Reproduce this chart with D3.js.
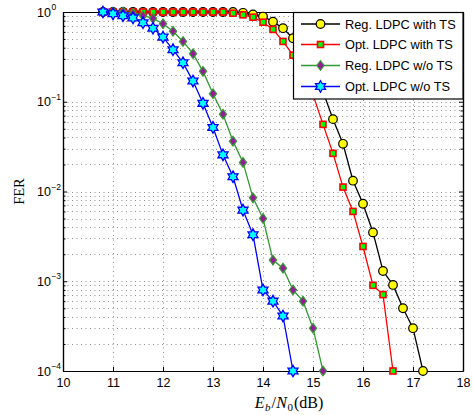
<!DOCTYPE html>
<html><head><meta charset="utf-8">
<script src="https://cdn.jsdelivr.net/npm/d3@7"></script>
<style>body{margin:0;background:#fff;} svg{display:block;}</style>
</head><body>
<svg id="c" width="473" height="415"></svg>
<script>
// ---------- data ----------
const snr = [10.8,11.0,11.2,11.4,11.6,11.8,12.0,12.2,12.4,12.6,12.8,13.0,13.2,13.4,13.6,13.8,14.0,14.2,14.4,14.6,14.8,15.0,15.2,15.4,15.6,15.8,16.0,16.2,16.4,16.6,16.8,17.0,17.2];
const seriesNames = ["Reg. LDPC with TS","Opt. LDPC with TS","Reg. LDPC w/o TS","Opt. LDPC w/o TS"];
const regWithTS = [1,1,1,1,1,1,1,1,1,1,1,1,1,1,0.98,0.94,0.89,0.78,0.66,0.51,0.34,0.22,0.13,0.064,0.034,0.0132,0.0073,0.0035,0.0013,0.00091,0.0005,0.0003,0.0001];
const optWithTS = [1,1,1,1,1,1,1,1,1,1,1,1,1,0.97,0.93,0.875,0.77,0.64,0.47,0.33,0.2,0.12,0.056,0.0266,0.0112,0.006,0.00244,0.0009,0.00071,0.0001];
const regWoTS = [1,1,1,0.96,0.91,0.85,0.74,0.61,0.47,0.343,0.218,0.123,0.0727,0.0364,0.0211,0.0085,0.005,0.00172,0.0014,0.0008,0.0006,0.0003,0.0001];
const optWoTS = [1,0.955,0.91,0.86,0.76,0.66,0.525,0.38,0.272,0.17,0.096,0.0517,0.0256,0.0146,0.0062,0.0033,0.0008,0.0006,0.00041,0.0001];
const xTicks = [10,11,12,13,14,15,16,17,18];
const yTicks = [1e-4,1e-3,1e-2,1e-1,1];
const yTickExp = ["\u22124","\u22123","\u22122","\u22121","0"];

// ---------- layout ----------
const L=63,R=463,T=12,B=371;
const svg = d3.select("#c");
const x = d3.scaleLinear().domain([10,18]).range([L,R]);
const y = d3.scaleLog().domain([1e-4,1]).range([B,T]);

const minorY = [];
for (let k=-4;k<0;k++) for (let m=1;m<10;m++){ const v=m*Math.pow(10,k); if (v>1e-4*1.0001) minorY.push(v); }
const onlyMinor = minorY.filter(v=>!yTicks.some(t=>Math.abs(Math.log10(v)-Math.log10(t))<1e-6));

// grid
const grid = svg.append("g").attr("stroke","#909090").attr("stroke-width",1).attr("stroke-dasharray","1,3.5").attr("fill","none");
grid.selectAll("line.h").data(minorY).join("line").attr("class","h")
  .attr("x1",L).attr("x2",R).attr("y1",d=>Math.round(y(d))+0.5).attr("y2",d=>Math.round(y(d))+0.5);
grid.selectAll("line.v").data(xTicks.slice(1,-1)).join("line").attr("class","v")
  .attr("y1",B).attr("y2",T).attr("x1",d=>Math.round(x(d))+0.5).attr("x2",d=>Math.round(x(d))+0.5);

// axes
const font = "'Liberation Sans', Arial, sans-serif";
function styleAxis(g){ g.selectAll("path.domain").attr("stroke","#000").attr("stroke-width",1.2);
  g.selectAll(".tick line").attr("stroke","#000").attr("stroke-width",1); g.selectAll("text").attr("fill","#000"); }
svg.append("g").attr("transform",`translate(0,${B})`)
  .call(d3.axisBottom(x).tickValues(xTicks).tickSizeInner(-4).tickSizeOuter(0).tickPadding(7).tickFormat(d3.format("d")))
  .call(styleAxis).call(g=>g.selectAll("text").attr("font-family",font).attr("font-size",12.5));
svg.append("g").attr("transform",`translate(0,${T})`)
  .call(d3.axisTop(x).tickValues(xTicks).tickSizeInner(-4).tickSizeOuter(0).tickFormat(""))
  .call(styleAxis);
svg.append("g").attr("transform",`translate(${L},0)`)
  .call(d3.axisLeft(y).tickValues(yTicks).tickSizeInner(-4).tickSizeOuter(0).tickFormat(""))
  .call(styleAxis);
svg.append("g").attr("transform",`translate(${L},0)`)
  .call(d3.axisLeft(y).tickValues(onlyMinor).tickSizeInner(-2.5).tickSizeOuter(0).tickFormat(""))
  .call(styleAxis);
svg.append("g").attr("transform",`translate(${R},0)`)
  .call(d3.axisRight(y).tickValues(yTicks).tickSizeInner(-4).tickSizeOuter(0).tickFormat(""))
  .call(styleAxis);
svg.append("g").attr("transform",`translate(${R},0)`)
  .call(d3.axisRight(y).tickValues(onlyMinor).tickSizeInner(-2.5).tickSizeOuter(0).tickFormat(""))
  .call(styleAxis);

// y tick labels 10^k
const yl = svg.append("g").attr("font-family",font).attr("fill","#000");
yTicks.forEach((t,i)=>{
  const tx = yl.append("text").attr("x",37).attr("y",y(t)+4.5).attr("font-size",12.5);
  tx.append("tspan").text("10");
  tx.append("tspan").attr("font-size",8.5).attr("dy",-6.5).attr("dx",0.5).text(yTickExp[i]);
});

// series
const xs = i=>x(snr[i]);
const series = [
  {vals:regWithTS, color:"#000000", fill:"#ffff00", sym:"circle"},
  {vals:optWithTS, color:"#ff0000", fill:"#00ff00", sym:"square"},
  {vals:regWoTS,  color:"#339933", fill:"#991a99", sym:"diamond"},
  {vals:optWoTS,  color:"#0000ff", fill:"#00ffff", sym:"hexagram"}
];
function hexagramPath(Ro){
  const ri = Ro/Math.sqrt(3); const p=[];
  for(let k=0;k<12;k++){ const a=-Math.PI/2+k*Math.PI/6; const rr=(k%2===0)?Ro:ri; p.push([rr*Math.cos(a), rr*Math.sin(a)]); }
  return "M"+p.map(q=>q[0].toFixed(2)+","+q[1].toFixed(2)).join("L")+"Z";
}
function drawMarker(g, sym, color, fill){
  if(sym==="circle") g.append("circle").attr("r",4.3).attr("fill",fill).attr("stroke",color).attr("stroke-width",1.2);
  else if(sym==="square") g.append("rect").attr("x",-3).attr("y",-3).attr("width",6).attr("height",6).attr("fill",fill).attr("stroke",color).attr("stroke-width",1.6);
  else if(sym==="diamond") g.append("path").attr("d","M0,-4.8L3.6,0L0,4.8L-3.6,0Z").attr("fill",fill).attr("stroke",color).attr("stroke-width",1.2);
  else g.append("path").attr("d",hexagramPath(5.8)).attr("fill",fill).attr("stroke",color).attr("stroke-width",1.3).attr("stroke-linejoin","miter");
}
const line = d3.line().x((d,i)=>xs(i)).y(d=>y(d));
series.forEach(s=>{
  const g = svg.append("g");
  g.append("path").attr("d",line(s.vals)).attr("fill","none").attr("stroke",s.color).attr("stroke-width",1.3);
  s.vals.forEach((v,i)=>{ const m=g.append("g").attr("transform",`translate(${xs(i)},${y(v)})`); drawMarker(m,s.sym,s.color,s.fill); });
});

// legend
const lg = svg.append("g");
lg.append("rect").attr("x",293.5).attr("y",T+0.5).attr("width",R-293.5).attr("height",86.5).attr("fill","#fff").attr("stroke","#000").attr("stroke-width",1.2);
const rowY = [24,44.5,65.5,86.5];
series.forEach((s,i)=>{
  lg.append("line").attr("x1",301).attr("x2",340).attr("y1",rowY[i]).attr("y2",rowY[i]).attr("stroke",s.color).attr("stroke-width",1.3);
  const m = lg.append("g").attr("transform",`translate(320.5,${rowY[i]})`); drawMarker(m,s.sym,s.color,s.fill);
  lg.append("text").attr("x",345).attr("y",rowY[i]).attr("dy","0.36em").attr("font-family",font).attr("font-size",12.8).attr("fill","#000").text(seriesNames[i]);
});

// axis titles
const serif = "'Liberation Serif','Times New Roman',serif";
svg.append("text").attr("transform",`translate(24,${(T+B)/2}) rotate(-90)`).attr("text-anchor","middle")
  .attr("font-family",serif).attr("font-size",14.5).attr("fill","#000").text("FER");
const xl = svg.append("text").attr("x",289).attr("y",408).attr("text-anchor","middle").attr("font-family",serif).attr("font-size",16).attr("fill","#000");
xl.append("tspan").attr("font-style","italic").text("E");
xl.append("tspan").attr("font-style","italic").attr("font-size",11).attr("dy",3).attr("dx",0.5).text("b");
xl.append("tspan").attr("dy",-3).attr("dx",1).text("/");
xl.append("tspan").attr("font-style","italic").attr("dx",0.5).text("N");
xl.append("tspan").attr("font-size",11).attr("dy",3).attr("dx",0.5).text("0");
xl.append("tspan").attr("dy",-3).attr("dx",1).text("(dB)");
</script>
</body></html>
